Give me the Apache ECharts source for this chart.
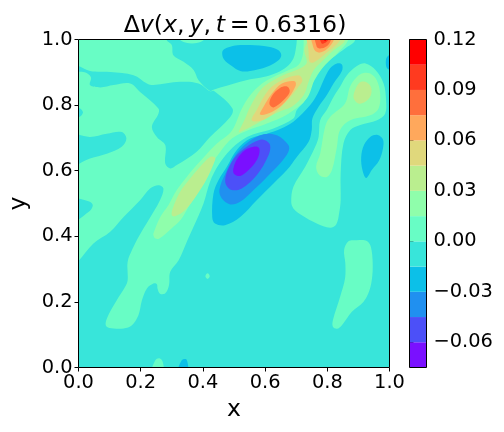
<!DOCTYPE html>
<html>
<head>
<meta charset="utf-8">
<title>contour</title>
<script src="https://cdn.jsdelivr.net/npm/echarts@6/dist/echarts.min.js"></script>
<style>
html,body{margin:0;padding:0;background:#fff;overflow:hidden;}
#main{width:504px;height:432px;}
</style>
</head>
<body>
<div id="main"></div>
<script>
// contour levels and one colour per band
const levels = [-0.075,-0.06,-0.045,-0.03,-0.015,0,0.015,0.03,0.045,0.06,0.075,0.09,0.105,0.12];
const bandColors = ['#7a10ff','#4c50f8','#2090f0','#0cc0e8','#38e5da','#68fdc5','#8ffeab','#baee8f','#e0d87c','#ffa85c','#ff6f3c','#ff3a1f','#ff0000'];
const xTicks = [0,0.2,0.4,0.6,0.8,1];
const yTicks = [0,0.2,0.4,0.6,0.8,1];
const barTicks = [-0.06,-0.03,0,0.03,0.06,0.09,0.12];

// contour outlines, in data units (x, y)
const baseField = [[-0.2,-0.2],[1.2,-0.2],[1.2,1.2],[-0.2,1.2]];
const greenMain = [[-0.08,1.08],[0.285,1.08],[0.283,1.0],[0.3,0.983],[0.305,0.952],[0.338,0.932],[0.37,0.907],[0.386,0.876],[0.423,0.843],[0.434,0.847],[0.52,0.871],[0.552,0.879],[0.595,0.886],[0.638,0.899],[0.67,0.917],[0.691,0.942],[0.699,0.973],[0.702,1.001],[0.702,1.08],[0.895,1.08],[0.89,0.999],[0.858,0.973],[0.825,0.95],[0.793,0.927],[0.772,0.896],[0.75,0.861],[0.729,0.815],[0.702,0.785],[0.691,0.759],[0.627,0.729],[0.563,0.711],[0.525,0.693],[0.488,0.663],[0.45,0.617],[0.423,0.566],[0.402,0.5],[0.37,0.429],[0.348,0.383],[0.322,0.327],[0.295,0.292],[0.291,0.251],[0.279,0.226],[0.262,0.225],[0.254,0.241],[0.252,0.254],[0.241,0.256],[0.22,0.241],[0.204,0.205],[0.193,0.16],[0.172,0.129],[0.145,0.119],[0.113,0.119],[0.089,0.126],[0.091,0.149],[0.123,0.205],[0.15,0.246],[0.158,0.266],[0.158,0.322],[0.172,0.358],[0.193,0.398],[0.225,0.449],[0.262,0.51],[0.273,0.546],[0.257,0.556],[0.23,0.546],[0.198,0.51],[0.145,0.459],[0.102,0.414],[0.048,0.378],[0,0.325],[-0.08,0.25]];
const holeRibbon = [[-0.03,0.925],[0,0.919],[0.037,0.904],[0.102,0.901],[0.177,0.891],[0.22,0.866],[0.241,0.861],[0.327,0.871],[0.386,0.866],[0.423,0.842],[0.436,0.843],[0.495,0.79],[0.488,0.764],[0.423,0.703],[0.38,0.658],[0.316,0.617],[0.295,0.607],[0.279,0.622],[0.279,0.678],[0.252,0.703],[0.236,0.734],[0.257,0.774],[0.257,0.79],[0.198,0.84],[0.166,0.866],[0.113,0.861],[0.07,0.854],[0.037,0.861],[0.04,0.885],[0.02,0.9],[-0.03,0.905]];
const holeLeftSmall = [[-0.03,0.795],[0.005,0.79],[0.014,0.778],[0.005,0.765],[-0.03,0.76]];
const holeLeftMid = [[-0.03,0.708],[0.037,0.703],[0.091,0.713],[0.139,0.718],[0.154,0.698],[0.139,0.673],[0.091,0.652],[0.037,0.637],[0,0.62],[-0.03,0.6]];
const holeLeftLow = [[-0.03,0.512],[0.032,0.507],[0.046,0.495],[0.032,0.474],[-0.03,0.44]];
const greenTopBump = [[0.316,1.02],[0.33,0.996],[0.365,0.988],[0.4,0.996],[0.41,1.02]];
const greenRight = [[0.923,0.927],[0.955,0.907],[0.981,0.866],[0.989,0.815],[0.986,0.774],[0.96,0.754],[0.906,0.739],[0.874,0.724],[0.852,0.683],[0.843,0.591],[0.843,0.51],[0.838,0.47],[0.829,0.437],[0.809,0.426],[0.766,0.439],[0.718,0.464],[0.691,0.485],[0.684,0.505],[0.691,0.551],[0.729,0.612],[0.761,0.673],[0.772,0.703],[0.777,0.754],[0.798,0.785],[0.82,0.825],[0.841,0.856],[0.863,0.891],[0.895,0.919]];
const greenLowRight = [[0.854,0.358],[0.858,0.317],[0.857,0.271],[0.841,0.215],[0.818,0.144],[0.818,0.124],[0.831,0.118],[0.847,0.129],[0.879,0.17],[0.916,0.2],[0.932,0.226],[0.943,0.266],[0.946,0.317],[0.94,0.368],[0.927,0.386],[0.895,0.388],[0.868,0.385]];
const greenBottom = [[0.234,-0.02],[0.247,0.022],[0.26,0.028],[0.271,0.017],[0.272,-0.02]];
const greenDot = [[0.408,0.278],[0.415,0.287],[0.422,0.278],[0.415,0.27]];
const ridge6 = [[0.241,0.403],[0.247,0.393],[0.26,0.393],[0.305,0.429],[0.33,0.452],[0.354,0.49],[0.391,0.551],[0.423,0.612],[0.456,0.658],[0.493,0.698],[0.541,0.722],[0.606,0.744],[0.675,0.774],[0.734,0.82],[0.761,0.881],[0.793,0.922],[0.836,0.962],[0.868,1.001],[0.875,1.08],[0.724,1.08],[0.724,0.998],[0.721,0.952],[0.707,0.922],[0.67,0.904],[0.627,0.886],[0.59,0.866],[0.552,0.83],[0.525,0.789],[0.493,0.722],[0.445,0.683],[0.413,0.652],[0.38,0.617],[0.348,0.581],[0.316,0.541],[0.289,0.495],[0.263,0.459],[0.241,0.409]];
const right6 = [[0.917,0.898],[0.938,0.896],[0.959,0.876],[0.97,0.835],[0.965,0.79],[0.938,0.769],[0.874,0.754],[0.841,0.724],[0.831,0.673],[0.815,0.602],[0.799,0.581],[0.775,0.586],[0.764,0.612],[0.777,0.652],[0.793,0.734],[0.809,0.764],[0.857,0.805],[0.873,0.856],[0.895,0.886]];
const ridgeLow7 = [[0.439,0.64],[0.423,0.642],[0.391,0.612],[0.359,0.576],[0.327,0.536],[0.303,0.485],[0.3,0.464],[0.311,0.461],[0.343,0.48],[0.38,0.525],[0.413,0.576],[0.439,0.632]];
const ridgeUp7 = [[0.515,0.718],[0.536,0.759],[0.552,0.795],[0.59,0.851],[0.627,0.876],[0.67,0.896],[0.718,0.915],[0.734,0.93],[0.726,0.967],[0.736,0.998],[0.736,1.08],[0.86,1.08],[0.857,0.998],[0.82,0.967],[0.782,0.932],[0.756,0.906],[0.74,0.871],[0.724,0.83],[0.686,0.795],[0.659,0.785],[0.632,0.774],[0.574,0.744],[0.52,0.718]];
const right7 = [[0.887,0.84],[0.885,0.82],[0.9,0.805],[0.922,0.81],[0.94,0.83],[0.94,0.856],[0.922,0.871],[0.903,0.868]];
const ellipse8 = [[0.557,0.754],[0.573,0.785],[0.611,0.846],[0.654,0.876],[0.707,0.891],[0.72,0.876],[0.707,0.856],[0.681,0.825],[0.627,0.774],[0.584,0.752]];
const ellipse9 = [[0.584,0.771],[0.595,0.795],[0.622,0.835],[0.654,0.866],[0.695,0.873],[0.698,0.858],[0.665,0.81],[0.622,0.779]];
const ellipse10 = [[0.614,0.803],[0.622,0.828],[0.649,0.853],[0.672,0.856],[0.679,0.84],[0.659,0.815],[0.627,0.793]];
const top8 = [[0.736,1.05],[0.74,0.962],[0.743,0.932],[0.756,0.93],[0.804,0.964],[0.841,0.998],[0.86,1.05]];
const top9 = [[0.747,1.05],[0.756,0.973],[0.772,0.96],[0.799,0.971],[0.822,1.001],[0.83,1.05]];
const top10 = [[0.758,1.05],[0.766,0.978],[0.782,0.973],[0.804,0.985],[0.815,1.01],[0.82,1.05]];
const top11 = [[0.77,1.04],[0.782,0.988],[0.798,0.993],[0.809,1.01],[0.812,1.04]];
const top12 = [[0.783,1.02],[0.793,0.995],[0.804,1.02]];
const blueMain = [[0.847,0.924],[0.847,0.904],[0.82,0.866],[0.798,0.83],[0.772,0.795],[0.752,0.759],[0.75,0.724],[0.74,0.688],[0.702,0.642],[0.67,0.602],[0.627,0.561],[0.573,0.51],[0.52,0.459],[0.471,0.434],[0.439,0.439],[0.43,0.459],[0.434,0.53],[0.45,0.571],[0.477,0.612],[0.509,0.663],[0.552,0.698],[0.606,0.713],[0.65,0.728],[0.691,0.749],[0.745,0.8],[0.769,0.835],[0.788,0.876],[0.809,0.912],[0.831,0.927]];
const blueTop = [[0.462,0.959],[0.468,0.939],[0.493,0.919],[0.52,0.904],[0.552,0.904],[0.606,0.917],[0.643,0.937],[0.652,0.952],[0.643,0.967],[0.611,0.978],[0.552,0.983],[0.52,0.983],[0.488,0.978],[0.468,0.97]];
const blueEdge = [[1.03,0.955],[0.995,0.95],[0.988,0.93],[0.995,0.91],[1.03,0.905]];
const blueRight = [[0.909,0.642],[0.913,0.602],[0.925,0.578],[0.943,0.602],[0.967,0.632],[0.979,0.668],[0.979,0.695],[0.962,0.709],[0.938,0.703],[0.918,0.678]];
const blueBottom = [[0.319,-0.02],[0.332,0.022],[0.348,0.024],[0.35,-0.02]];
const blob2 = [[0.453,0.541],[0.472,0.591],[0.504,0.647],[0.547,0.688],[0.595,0.711],[0.638,0.708],[0.675,0.678],[0.675,0.658],[0.648,0.622],[0.606,0.581],[0.563,0.541],[0.52,0.505],[0.488,0.497],[0.461,0.515]];
const blob1 = [[0.472,0.576],[0.475,0.556],[0.493,0.541],[0.525,0.546],[0.573,0.586],[0.611,0.647],[0.616,0.678],[0.6,0.693],[0.579,0.693],[0.541,0.673],[0.504,0.642],[0.482,0.607]];
const blob0 = [[0.498,0.607],[0.5,0.591],[0.52,0.584],[0.547,0.602],[0.573,0.632],[0.582,0.657],[0.579,0.671],[0.563,0.673],[0.536,0.663],[0.511,0.637]];

// painted in order, later ones on top: [band index, outline]
const regions = [
	[4, baseField],
	[5, greenMain], [4, holeRibbon], [4, holeLeftSmall], [4, holeLeftMid], [4, holeLeftLow],
	[5, greenTopBump], [5, greenRight], [5, greenLowRight], [5, greenBottom], [5, greenDot],
	[6, ridge6], [6, right6],
	[7, ridgeLow7], [7, ridgeUp7], [7, right7],
	[8, ellipse8], [9, ellipse9], [10, ellipse10],
	[8, top8], [9, top9], [10, top10], [11, top11], [12, top12],
	[3, blueMain], [3, blueTop], [3, blueEdge], [3, blueRight], [3, blueBottom],
	[2, blob2], [1, blob1], [0, blob0]
];

const fontName = '"DejaVu Sans"';
const tickFont = 19.4;
const nameFont = 23.5;

function fmtBar(v) {
	return v.toFixed(2).replace('-', '\u2212');
}

var myChart = echarts.init(document.getElementById('main'), null, {renderer: 'canvas'});

var option = {
	animation: false,
	backgroundColor: '#fff',
	title: {
		left: 230,
		top: 9,
		textAlign: 'center',
		text: '{n|\u0394}{i|v}{n|(}{i|x}{n|,\u2009}{i|y}{n|,\u2009}{i|t}{n|\u2009=\u20090.6316)}',
		textStyle: {
			fontWeight: 'normal',
			rich: {
				n: {fontFamily: fontName, fontSize: 23.7, fontWeight: 'normal', color: '#000'},
				i: {fontFamily: fontName, fontSize: 23.7, fontWeight: 'normal', fontStyle: 'italic', color: '#000'}
			}
		}
	},
	grid: [
		{left: 78.5, top: 39.5, width: 311, height: 328, outerBoundsMode: 'none', show: true, z: 5, backgroundColor: 'transparent', borderColor: '#000', borderWidth: 1},
		{left: 409.5, top: 39.5, width: 17, height: 328, outerBoundsMode: 'none', show: true, z: 5, backgroundColor: 'transparent', borderColor: '#000', borderWidth: 1}
	],
	xAxis: [
		{
			type: 'value', gridIndex: 0, min: 0, max: 1, interval: 0.2,
			name: 'x', nameLocation: 'middle', nameGap: 30,
			nameTextStyle: {fontFamily: fontName, fontSize: nameFont, color: '#000'},
			splitLine: {show: false},
			axisLine: {show: false},
			axisTick: {show: true, length: 4, lineStyle: {color: '#000', width: 1}, customValues: xTicks},
			axisLabel: {fontFamily: fontName, fontSize: tickFont, color: '#000', margin: 6, customValues: xTicks, formatter: function (v) { return v.toFixed(1); }}
		},
		{type: 'value', gridIndex: 1, min: 0, max: 1, show: false}
	],
	yAxis: [
		{
			type: 'value', gridIndex: 0, min: 0, max: 1, interval: 0.2,
			name: 'y', nameLocation: 'middle', nameGap: 44,
			nameTextStyle: {fontFamily: fontName, fontSize: nameFont, color: '#000'},
			splitLine: {show: false},
			axisLine: {show: false},
			axisTick: {show: true, length: 4, lineStyle: {color: '#000', width: 1}, customValues: yTicks},
			axisLabel: {fontFamily: fontName, fontSize: tickFont, color: '#000', margin: 6, customValues: yTicks, formatter: function (v) { return v.toFixed(1); }}
		},
		{
			type: 'value', gridIndex: 1, position: 'right', min: levels[0], max: levels[levels.length - 1],
			splitLine: {show: false},
			axisLine: {show: false},
			axisTick: {show: true, length: 4, lineStyle: {color: '#000', width: 1}, customValues: barTicks},
			axisLabel: {fontFamily: fontName, fontSize: tickFont, color: '#000', margin: 7, customValues: barTicks, formatter: fmtBar}
		}
	],
	series: [
		{
			type: 'custom',
			xAxisIndex: 0,
			yAxisIndex: 0,
			clip: true,
			silent: true,
			z: 1,
			data: regions.map(function (r, i) { return [i]; }),
			renderItem: function (params, api) {
				var r = regions[params.dataIndex];
				return {
					type: 'polygon',
					shape: {points: r[1].map(function (p) { return api.coord(p); }), smooth: 0.35},
					style: {fill: bandColors[r[0]]}
				};
			}
		},
		{
			type: 'custom',
			xAxisIndex: 1,
			yAxisIndex: 1,
			silent: true,
			z: 1,
			data: bandColors.map(function (c, i) { return [levels[i], levels[i + 1]]; }),
			renderItem: function (params, api) {
				var a = api.coord([0, api.value(0)]);
				var b = api.coord([1, api.value(1)]);
				return {
					type: 'rect',
					shape: {x: a[0], y: b[1], width: b[0] - a[0], height: a[1] - b[1]},
					style: {fill: bandColors[params.dataIndex]}
				};
			}
		}
	]
};

myChart.setOption(option);
</script>
</body>
</html>
